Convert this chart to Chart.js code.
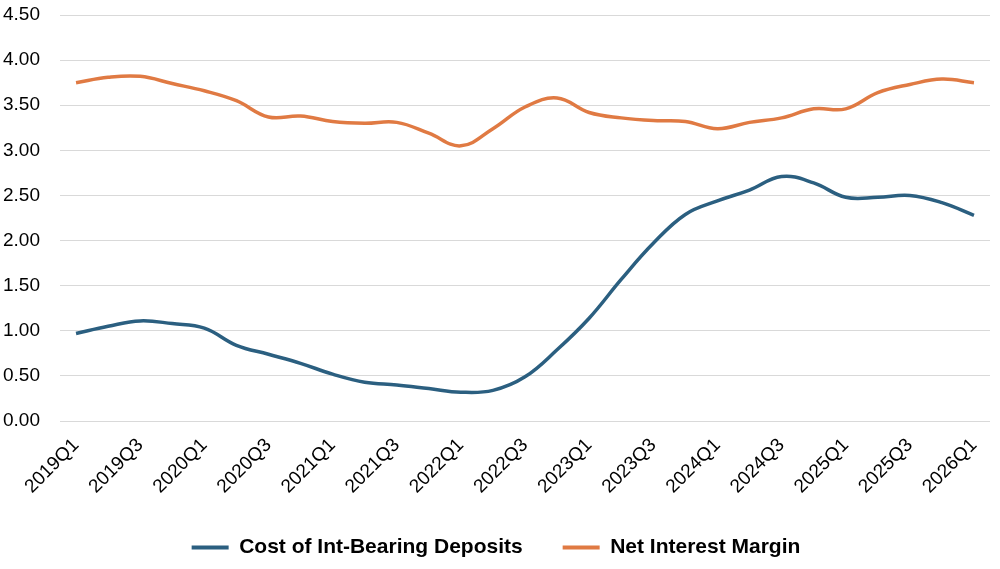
<!DOCTYPE html>
<html>
<head>
<meta charset="utf-8">
<script src="https://cdn.jsdelivr.net/npm/chart.js@4/dist/chart.umd.min.js"></script>
<style>
  html, body { margin: 0; padding: 0; background: #fff; }
  #wrap { width: 1000px; height: 569px; }
</style>
</head>
<body>
<div id="wrap"><canvas id="chart"></canvas></div>
<script>
// quarters 2019Q1 .. 2026Q1
const quarters = [
  '2019Q1','2019Q2','2019Q3','2019Q4',
  '2020Q1','2020Q2','2020Q3','2020Q4',
  '2021Q1','2021Q2','2021Q3','2021Q4',
  '2022Q1','2022Q2','2022Q3','2022Q4',
  '2023Q1','2023Q2','2023Q3','2023Q4',
  '2024Q1','2024Q2','2024Q3','2024Q4',
  '2025Q1','2025Q2','2025Q3','2025Q4',
  '2026Q1'
];

const costDeposits = [
  0.97, 1.05, 1.11, 1.08,
  1.03, 0.84, 0.74, 0.64,
  0.52, 0.43, 0.40, 0.36,
  0.32, 0.34, 0.49, 0.79,
  1.14, 1.57, 1.97, 2.29,
  2.44, 2.56, 2.71, 2.64,
  2.48, 2.48, 2.50, 2.42,
  2.28
];

const netInterestMargin = [
  3.75, 3.81, 3.82, 3.74,
  3.66, 3.55, 3.37, 3.38,
  3.32, 3.30, 3.31, 3.19,
  3.05, 3.24, 3.48, 3.58,
  3.42, 3.36, 3.33, 3.32,
  3.24, 3.31, 3.36, 3.46,
  3.46, 3.64, 3.73, 3.79,
  3.75
];

const blue = '#2B5F80';
const orange = '#E07A43';
const tickFont = { family: '"Liberation Sans", Arial, sans-serif', size: 19 };

new Chart(document.getElementById('chart'), {
  type: 'line',
  data: {
    labels: quarters,
    datasets: [{
      label: 'Cost of Int-Bearing Deposits',
      data: costDeposits,
      borderColor: blue,
      backgroundColor: blue,
      borderWidth: 3.5,
      pointRadius: 0,
      tension: 0.4,
      fill: false
    }, {
      label: 'Net Interest Margin',
      data: netInterestMargin,
      borderColor: orange,
      backgroundColor: orange,
      borderWidth: 3.5,
      pointRadius: 0,
      tension: 0.4,
      fill: false
    }]
  },
  options: {
    responsive: true,
    maintainAspectRatio: false,
    animation: false,
    layout: { padding: { left: 2, right: 10, top: 0, bottom: 1 } },
    plugins: {
      tooltip: { enabled: false },
      legend: {
        position: 'bottom',
        labels: {
          color: '#000',
          font: { family: '"Liberation Sans", Arial, sans-serif', size: 21, weight: 'bold' },
          boxWidth: 37,
          boxHeight: 4,
          padding: 40,
          generateLabels: chart => Chart.defaults.plugins.legend.labels.generateLabels(chart)
            .map(l => Object.assign(l, { lineWidth: 0, fillStyle: l.strokeStyle }))
        }
      }
    },
    scales: {
      x: {
        offset: true,
        grid: { display: false },
        border: { display: false },
        afterFit: s => { s.paddingLeft = 0; s.height -= 6; },
        ticks: {
          color: '#000',
          font: tickFont,
          autoSkip: false,
          maxRotation: 45,
          minRotation: 45,
          padding: 5,
          callback: function (val, i) { return i % 2 === 0 ? this.getLabelForValue(val) : ''; }
        }
      },
      y: {
        min: 0,
        max: 4.5,
        grid: { color: '#D9D9D9', lineWidth: 1, drawTicks: false },
        border: { display: false },
        afterFit: s => { s.paddingTop = 15; s.width = 58; },
        ticks: {
          stepSize: 0.5,
          color: '#000',
          padding: 20,
          font: tickFont,
          callback: v => v.toFixed(2)
        }
      }
    }
  }
});
</script>
</body>
</html>
